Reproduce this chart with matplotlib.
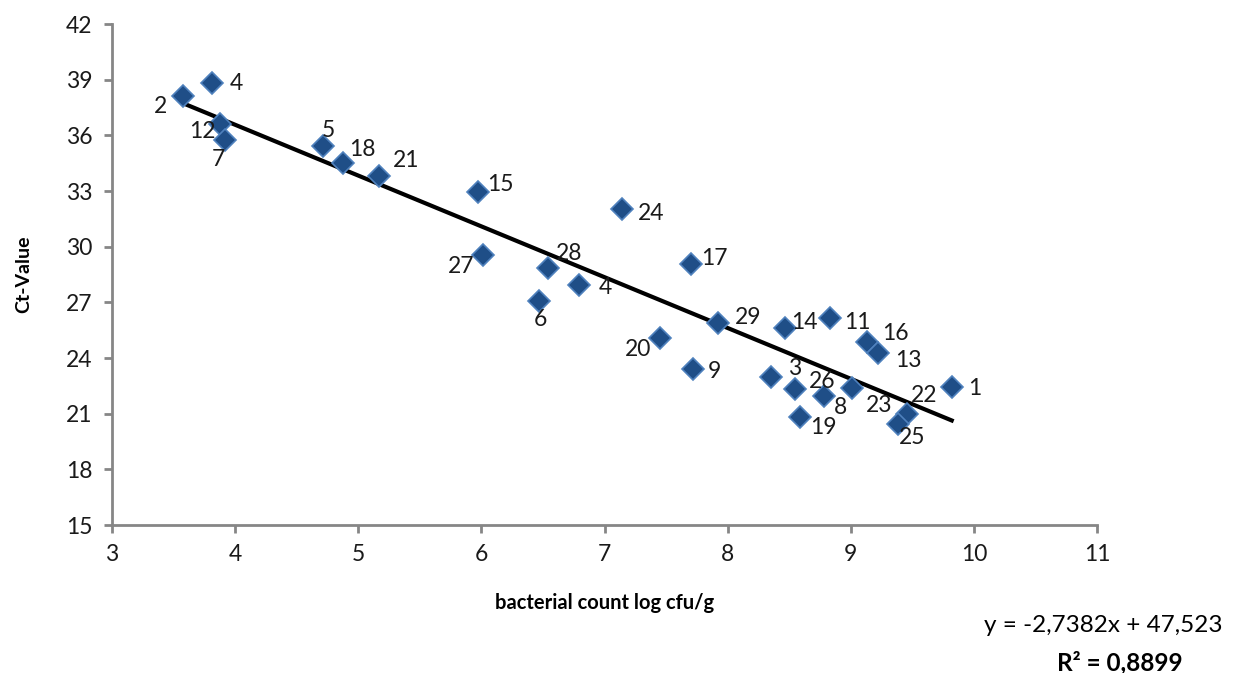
import matplotlib.pyplot as plt

plt.rcParams['font.family'] = ['Lato', 'DejaVu Sans']

# sample labels and values
labels = ['2', '4', '12', '7', '5', '18', '21', '15', '24', '27', '28', '4', '6', '17', '20',
          '29', '9', '14', '11', '16', '13', '3', '26', '8', '23', '19', '22', '25', '1']
log_cfu = [3.58, 3.81, 3.88, 3.92, 4.71, 4.88, 5.17, 5.97, 7.14, 6.01, 6.54, 6.79, 6.47, 7.70, 7.45,
           7.92, 7.72, 8.47, 8.83, 9.13, 9.22, 8.35, 8.55, 8.78, 9.01, 8.59, 9.46, 9.38, 9.82]
ct_value = [38.12, 38.82, 36.61, 35.75, 35.43, 34.51, 33.81, 32.95, 32.03, 29.55, 28.85, 27.94, 27.08, 29.07, 25.08,
            25.89, 23.41, 25.62, 26.16, 24.87, 24.27, 22.98, 22.33, 21.96, 22.39, 20.83, 20.99, 20.45, 22.44]

slope, intercept = -2.7382, 47.523

# label offsets (pixels, right/down) per point
offsets_px = [(-23, 11), (25, 0), (-18, 7), (-7, 20), (6, -15), (19, -13), (27, -15), (23, -7), (29, 5),
              (-21, 11), (21, -15), (27, 3), (1, 19), (24, -5), (-22, 12), (30, -5), (21, 3), (19, -5),
              (28, 5), (29, -8), (31, 8), (24, -8), (27, -7), (17, 12), (27, 18), (23, 11), (17, -18),
              (15, 14), (23, 2)]

fig = plt.figure(figsize=(12.53, 6.73), dpi=100)
ax = fig.add_axes([112 / 1253, 1 - 525 / 673, (1097 - 112) / 1253, (525 - 24) / 673])

# trend line
x0, x1 = min(log_cfu), max(log_cfu)
ax.plot([x0, x1], [slope * x0 + intercept, slope * x1 + intercept], color='black', linewidth=3, zorder=2)

ax.plot(log_cfu, ct_value, linestyle='None', marker='D', markersize=11,
        markerfacecolor='#1f4e87', markeredgecolor='#4f81bd', markeredgewidth=1.2, zorder=3)

for lab, x, y, (dx, dy) in zip(labels, log_cfu, ct_value, offsets_px):
    ax.annotate(lab, (x, y), xytext=(dx * 0.72, -dy * 0.72), textcoords='offset points',
                ha='center', va='center', fontsize=16.5, color='#1a1a1a')

ax.set_xlim(3, 11)
ax.set_ylim(15, 42)
ax.set_xticks(range(3, 12))
ax.set_yticks(range(15, 43, 3))

for side in ['top', 'right']:
    ax.spines[side].set_visible(False)
for side in ['left', 'bottom']:
    ax.spines[side].set_color('#868686')
    ax.spines[side].set_linewidth(2)
ax.tick_params(colors='#868686', width=2, length=6, labelsize=16.5, labelcolor='#1a1a1a', pad=8)

ax.set_xlabel('bacterial count log cfu/g', fontsize=14.5, fontweight='bold', labelpad=20)
ax.set_ylabel('Ct-Value', fontsize=14, fontweight='bold', labelpad=24)

fig.text(1103 / 1253, 1 - 626 / 673, 'y = -2,7382x + 47,523', ha='center', va='center', fontsize=17.5)
fig.text(1120 / 1253, 1 - 663 / 673, 'R² = 0,8899', ha='center', va='center', fontsize=17.5, fontweight='bold')

fig.savefig('out.png', dpi=100)
